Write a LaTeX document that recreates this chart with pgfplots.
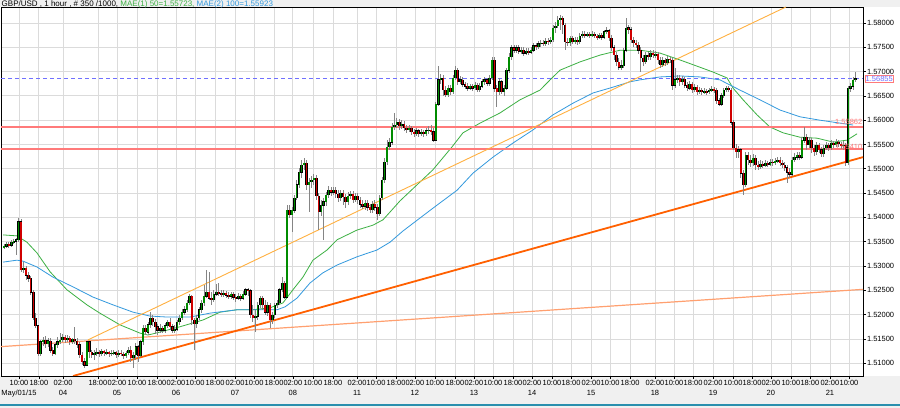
\documentclass[border=0pt]{standalone}
\usepackage{pgfplots}
\pgfplotsset{compat=1.18}
\usepackage{pgfplotstable}
\usepackage{fontspec}
\setmainfont{Liberation Sans}
\definecolor{bgc}{HTML}{F0F0F0}
\definecolor{tealc}{HTML}{2A8FAE}
\definecolor{upg}{HTML}{008C00}
\definecolor{dnr}{HTML}{D00000}
\definecolor{wick}{HTML}{858585}
\definecolor{maone}{HTML}{3CB043}
\definecolor{matwo}{HTML}{3399DD}
\definecolor{tlone}{HTML}{FFB040}
\definecolor{tltwo}{HTML}{FF6000}
\definecolor{tlthree}{HTML}{FFA070}
\definecolor{hred}{HTML}{FF7A7A}
\definecolor{cpb}{HTML}{7070FF}

\pgfplotstableread{
x o h l c
0 1.5339 1.5345 1.5335 1.5341
1 1.5341 1.5349 1.5337 1.5345
2 1.5345 1.5349 1.5337 1.5343
3 1.5343 1.5354 1.5339 1.5349
4 1.5349 1.5356 1.5345 1.5351
5 1.5351 1.5358 1.5323 1.5354
6 1.5354 1.5399 1.5349 1.5391
7 1.5391 1.5397 1.5288 1.5292
8 1.5292 1.5308 1.5286 1.5296
9 1.5296 1.5300 1.5271 1.5281
10 1.5281 1.5288 1.5267 1.5275
11 1.5275 1.5279 1.5240 1.5246
12 1.5246 1.5251 1.5189 1.5193
13 1.5193 1.5203 1.5172 1.5177
14 1.5177 1.5179 1.5115 1.5119
15 1.5119 1.5148 1.5115 1.5144
16 1.5144 1.5154 1.5136 1.5148
17 1.5148 1.5156 1.5132 1.5140
18 1.5140 1.5152 1.5134 1.5146
19 1.5146 1.5152 1.5121 1.5127
20 1.5127 1.5134 1.5115 1.5119
21 1.5119 1.5142 1.5117 1.5138
22 1.5138 1.5154 1.5132 1.5144
23 1.5144 1.5162 1.5140 1.5148
24 1.5148 1.5160 1.5144 1.5154
25 1.5154 1.5158 1.5142 1.5148
26 1.5148 1.5158 1.5144 1.5152
27 1.5152 1.5156 1.5138 1.5144
28 1.5144 1.5152 1.5140 1.5150
29 1.5150 1.5175 1.5140 1.5146
30 1.5146 1.5152 1.5132 1.5138
31 1.5138 1.5144 1.5111 1.5117
32 1.5117 1.5123 1.5096 1.5103
33 1.5103 1.5111 1.5090 1.5096
34 1.5096 1.5146 1.5094 1.5144
35 1.5144 1.5146 1.5111 1.5123
36 1.5123 1.5127 1.5111 1.5117
37 1.5117 1.5127 1.5107 1.5121
38 1.5121 1.5132 1.5115 1.5123
39 1.5123 1.5127 1.5113 1.5119
40 1.5119 1.5129 1.5115 1.5125
41 1.5125 1.5127 1.5115 1.5121
42 1.5121 1.5129 1.5117 1.5123
43 1.5123 1.5125 1.5113 1.5119
44 1.5119 1.5127 1.5115 1.5121
45 1.5121 1.5127 1.5117 1.5123
46 1.5123 1.5125 1.5111 1.5117
47 1.5117 1.5127 1.5113 1.5121
48 1.5121 1.5127 1.5115 1.5119
49 1.5119 1.5123 1.5109 1.5115
50 1.5115 1.5125 1.5111 1.5121
51 1.5121 1.5134 1.5117 1.5127
52 1.5127 1.5136 1.5103 1.5111
53 1.5111 1.5123 1.5090 1.5117
54 1.5117 1.5142 1.5107 1.5134
55 1.5134 1.5138 1.5103 1.5115
56 1.5115 1.5148 1.5113 1.5144
57 1.5144 1.5179 1.5138 1.5172
58 1.5172 1.5179 1.5158 1.5164
59 1.5164 1.5185 1.5158 1.5179
60 1.5179 1.5205 1.5172 1.5193
61 1.5193 1.5199 1.5177 1.5185
62 1.5185 1.5191 1.5160 1.5175
63 1.5175 1.5181 1.5158 1.5168
64 1.5168 1.5181 1.5162 1.5172
65 1.5172 1.5177 1.5162 1.5168
66 1.5168 1.5183 1.5162 1.5177
67 1.5177 1.5189 1.5172 1.5185
68 1.5185 1.5193 1.5168 1.5175
69 1.5175 1.5181 1.5162 1.5168
70 1.5168 1.5179 1.5162 1.5170
71 1.5170 1.5189 1.5166 1.5185
72 1.5185 1.5199 1.5179 1.5193
73 1.5193 1.5211 1.5189 1.5205
74 1.5205 1.5218 1.5199 1.5210
75 1.5210 1.5230 1.5205 1.5224
76 1.5224 1.5242 1.5220 1.5238
77 1.5238 1.5240 1.5179 1.5189
78 1.5189 1.5193 1.5127 1.5181
79 1.5181 1.5199 1.5172 1.5193
80 1.5193 1.5216 1.5189 1.5210
81 1.5210 1.5230 1.5203 1.5224
82 1.5224 1.5261 1.5218 1.5238
83 1.5238 1.5292 1.5234 1.5246
84 1.5246 1.5288 1.5230 1.5234
85 1.5234 1.5246 1.5220 1.5230
86 1.5230 1.5251 1.5226 1.5242
87 1.5242 1.5263 1.5238 1.5246
88 1.5246 1.5265 1.5238 1.5244
89 1.5244 1.5251 1.5236 1.5242
90 1.5242 1.5251 1.5236 1.5244
91 1.5244 1.5249 1.5234 1.5240
92 1.5240 1.5246 1.5232 1.5238
93 1.5238 1.5246 1.5232 1.5242
94 1.5242 1.5246 1.5230 1.5236
95 1.5236 1.5242 1.5226 1.5234
96 1.5234 1.5244 1.5230 1.5238
97 1.5238 1.5242 1.5228 1.5234
98 1.5234 1.5249 1.5230 1.5242
99 1.5242 1.5255 1.5238 1.5251
100 1.5251 1.5255 1.5238 1.5249
101 1.5249 1.5253 1.5193 1.5199
102 1.5199 1.5220 1.5185 1.5193
103 1.5193 1.5210 1.5164 1.5197
104 1.5197 1.5226 1.5189 1.5220
105 1.5220 1.5238 1.5214 1.5234
106 1.5234 1.5238 1.5210 1.5220
107 1.5220 1.5230 1.5199 1.5205
108 1.5205 1.5226 1.5197 1.5220
109 1.5220 1.5224 1.5172 1.5189
110 1.5189 1.5205 1.5181 1.5199
111 1.5199 1.5224 1.5193 1.5220
112 1.5220 1.5230 1.5214 1.5224
113 1.5224 1.5255 1.5220 1.5251
114 1.5251 1.5277 1.5246 1.5265
115 1.5265 1.5269 1.5232 1.5236
116 1.5236 1.5425 1.5234 1.5415
117 1.5415 1.5425 1.5399 1.5405
118 1.5405 1.5421 1.5370 1.5415
119 1.5415 1.5446 1.5409 1.5440
120 1.5440 1.5477 1.5436 1.5467
121 1.5467 1.5502 1.5461 1.5493
122 1.5493 1.5518 1.5481 1.5508
123 1.5508 1.5522 1.5498 1.5512
124 1.5512 1.5518 1.5456 1.5467
125 1.5467 1.5481 1.5411 1.5473
126 1.5473 1.5485 1.5461 1.5477
127 1.5477 1.5489 1.5467 1.5481
128 1.5481 1.5487 1.5436 1.5444
129 1.5444 1.5450 1.5374 1.5411
130 1.5411 1.5436 1.5403 1.5425
131 1.5425 1.5440 1.5354 1.5432
132 1.5432 1.5452 1.5423 1.5446
133 1.5446 1.5465 1.5440 1.5456
134 1.5456 1.5463 1.5444 1.5452
135 1.5452 1.5463 1.5446 1.5456
136 1.5456 1.5463 1.5440 1.5448
137 1.5448 1.5456 1.5432 1.5440
138 1.5440 1.5456 1.5434 1.5450
139 1.5450 1.5456 1.5425 1.5442
140 1.5442 1.5448 1.5419 1.5432
141 1.5432 1.5452 1.5425 1.5444
142 1.5444 1.5454 1.5438 1.5448
143 1.5448 1.5454 1.5429 1.5436
144 1.5436 1.5450 1.5432 1.5444
145 1.5444 1.5450 1.5427 1.5436
146 1.5436 1.5442 1.5419 1.5427
147 1.5427 1.5436 1.5417 1.5423
148 1.5423 1.5436 1.5415 1.5429
149 1.5429 1.5436 1.5413 1.5421
150 1.5421 1.5427 1.5409 1.5415
151 1.5415 1.5434 1.5409 1.5427
152 1.5427 1.5436 1.5413 1.5421
153 1.5421 1.5427 1.5395 1.5407
154 1.5407 1.5446 1.5403 1.5440
155 1.5440 1.5483 1.5436 1.5477
156 1.5477 1.5522 1.5471 1.5514
157 1.5514 1.5559 1.5508 1.5545
158 1.5545 1.5563 1.5539 1.5555
159 1.5555 1.5594 1.5549 1.5586
160 1.5586 1.5615 1.5580 1.5590
161 1.5590 1.5605 1.5584 1.5596
162 1.5596 1.5602 1.5580 1.5588
163 1.5588 1.5600 1.5582 1.5592
164 1.5592 1.5598 1.5578 1.5584
165 1.5584 1.5590 1.5574 1.5580
166 1.5580 1.5590 1.5576 1.5584
167 1.5584 1.5588 1.5570 1.5576
168 1.5576 1.5582 1.5565 1.5572
169 1.5572 1.5584 1.5567 1.5578
170 1.5578 1.5582 1.5565 1.5572
171 1.5572 1.5582 1.5567 1.5576
172 1.5576 1.5580 1.5565 1.5572
173 1.5572 1.5584 1.5567 1.5578
174 1.5578 1.5588 1.5572 1.5580
175 1.5580 1.5590 1.5570 1.5576
176 1.5576 1.5584 1.5555 1.5559
177 1.5559 1.5637 1.5557 1.5633
178 1.5633 1.5712 1.5629 1.5683
179 1.5683 1.5695 1.5674 1.5687
180 1.5687 1.5693 1.5650 1.5662
181 1.5662 1.5670 1.5648 1.5652
182 1.5652 1.5672 1.5648 1.5666
183 1.5666 1.5672 1.5652 1.5658
184 1.5658 1.5693 1.5654 1.5687
185 1.5687 1.5712 1.5683 1.5703
186 1.5703 1.5707 1.5672 1.5679
187 1.5679 1.5691 1.5674 1.5683
188 1.5683 1.5689 1.5668 1.5674
189 1.5674 1.5679 1.5664 1.5670
190 1.5670 1.5676 1.5660 1.5666
191 1.5666 1.5674 1.5662 1.5670
192 1.5670 1.5674 1.5660 1.5666
193 1.5666 1.5679 1.5662 1.5672
194 1.5672 1.5676 1.5658 1.5662
195 1.5662 1.5676 1.5658 1.5670
196 1.5670 1.5685 1.5666 1.5679
197 1.5679 1.5689 1.5672 1.5683
198 1.5683 1.5687 1.5670 1.5676
199 1.5676 1.5693 1.5670 1.5687
200 1.5687 1.5730 1.5683 1.5724
201 1.5724 1.5730 1.5658 1.5666
202 1.5666 1.5672 1.5627 1.5658
203 1.5658 1.5687 1.5652 1.5679
204 1.5679 1.5683 1.5654 1.5658
205 1.5658 1.5672 1.5650 1.5666
206 1.5666 1.5707 1.5662 1.5703
207 1.5703 1.5738 1.5697 1.5730
208 1.5730 1.5755 1.5724 1.5749
209 1.5749 1.5755 1.5738 1.5744
210 1.5744 1.5755 1.5738 1.5749
211 1.5749 1.5755 1.5736 1.5742
212 1.5742 1.5751 1.5736 1.5744
213 1.5744 1.5751 1.5732 1.5738
214 1.5738 1.5749 1.5734 1.5742
215 1.5742 1.5749 1.5734 1.5740
216 1.5740 1.5751 1.5736 1.5744
217 1.5744 1.5759 1.5740 1.5753
218 1.5753 1.5759 1.5744 1.5751
219 1.5751 1.5763 1.5747 1.5757
220 1.5757 1.5765 1.5751 1.5759
221 1.5759 1.5765 1.5753 1.5757
222 1.5757 1.5769 1.5753 1.5763
223 1.5763 1.5769 1.5755 1.5761
224 1.5761 1.5771 1.5757 1.5765
225 1.5765 1.5796 1.5761 1.5790
226 1.5790 1.5802 1.5779 1.5794
227 1.5794 1.5814 1.5790 1.5806
228 1.5806 1.5816 1.5786 1.5810
229 1.5810 1.5814 1.5777 1.5796
230 1.5796 1.5800 1.5744 1.5761
231 1.5761 1.5769 1.5753 1.5759
232 1.5759 1.5773 1.5753 1.5769
233 1.5769 1.5773 1.5757 1.5761
234 1.5761 1.5771 1.5757 1.5765
235 1.5765 1.5771 1.5755 1.5761
236 1.5761 1.5779 1.5757 1.5773
237 1.5773 1.5784 1.5769 1.5777
238 1.5777 1.5784 1.5769 1.5775
239 1.5775 1.5782 1.5771 1.5777
240 1.5777 1.5782 1.5769 1.5775
241 1.5775 1.5784 1.5771 1.5777
242 1.5777 1.5782 1.5769 1.5773
243 1.5773 1.5777 1.5765 1.5771
244 1.5771 1.5779 1.5767 1.5775
245 1.5775 1.5779 1.5765 1.5771
246 1.5771 1.5786 1.5767 1.5782
247 1.5782 1.5792 1.5777 1.5784
248 1.5784 1.5788 1.5763 1.5769
249 1.5769 1.5775 1.5742 1.5749
250 1.5749 1.5755 1.5724 1.5734
251 1.5734 1.5740 1.5712 1.5720
252 1.5720 1.5728 1.5703 1.5709
253 1.5709 1.5724 1.5703 1.5712
254 1.5712 1.5749 1.5707 1.5744
255 1.5744 1.5810 1.5740 1.5790
256 1.5790 1.5796 1.5777 1.5786
257 1.5786 1.5792 1.5759 1.5765
258 1.5765 1.5771 1.5751 1.5759
259 1.5759 1.5765 1.5749 1.5755
260 1.5755 1.5761 1.5736 1.5744
261 1.5744 1.5751 1.5699 1.5728
262 1.5728 1.5734 1.5712 1.5720
263 1.5720 1.5740 1.5716 1.5734
264 1.5734 1.5740 1.5724 1.5730
265 1.5730 1.5744 1.5724 1.5738
266 1.5738 1.5744 1.5728 1.5734
267 1.5734 1.5742 1.5728 1.5736
268 1.5736 1.5740 1.5716 1.5724
269 1.5724 1.5730 1.5707 1.5714
270 1.5714 1.5730 1.5709 1.5724
271 1.5724 1.5728 1.5712 1.5718
272 1.5718 1.5732 1.5714 1.5726
273 1.5726 1.5730 1.5718 1.5724
274 1.5724 1.5728 1.5662 1.5672
275 1.5672 1.5707 1.5666 1.5683
276 1.5683 1.5693 1.5676 1.5687
277 1.5687 1.5693 1.5670 1.5679
278 1.5679 1.5691 1.5672 1.5685
279 1.5685 1.5689 1.5666 1.5672
280 1.5672 1.5679 1.5660 1.5666
281 1.5666 1.5681 1.5662 1.5674
282 1.5674 1.5679 1.5656 1.5662
283 1.5662 1.5674 1.5658 1.5668
284 1.5668 1.5672 1.5652 1.5658
285 1.5658 1.5668 1.5654 1.5662
286 1.5662 1.5666 1.5652 1.5658
287 1.5658 1.5666 1.5654 1.5660
288 1.5660 1.5664 1.5652 1.5658
289 1.5658 1.5666 1.5654 1.5662
290 1.5662 1.5670 1.5658 1.5664
291 1.5664 1.5668 1.5656 1.5662
292 1.5662 1.5666 1.5633 1.5640
293 1.5640 1.5646 1.5629 1.5633
294 1.5633 1.5656 1.5629 1.5650
295 1.5650 1.5666 1.5646 1.5662
296 1.5662 1.5670 1.5658 1.5666
297 1.5666 1.5670 1.5658 1.5662
298 1.5662 1.5666 1.5590 1.5596
299 1.5596 1.5600 1.5539 1.5543
300 1.5543 1.5551 1.5522 1.5535
301 1.5535 1.5547 1.5522 1.5539
302 1.5539 1.5543 1.5481 1.5491
303 1.5491 1.5498 1.5446 1.5467
304 1.5467 1.5535 1.5463 1.5528
305 1.5528 1.5535 1.5508 1.5518
306 1.5518 1.5528 1.5504 1.5512
307 1.5512 1.5531 1.5506 1.5522
308 1.5522 1.5528 1.5498 1.5508
309 1.5508 1.5516 1.5498 1.5504
310 1.5504 1.5518 1.5500 1.5510
311 1.5510 1.5516 1.5502 1.5506
312 1.5506 1.5518 1.5504 1.5512
313 1.5512 1.5516 1.5504 1.5508
314 1.5508 1.5520 1.5506 1.5514
315 1.5514 1.5520 1.5506 1.5512
316 1.5512 1.5522 1.5508 1.5516
317 1.5516 1.5524 1.5512 1.5518
318 1.5518 1.5524 1.5506 1.5512
319 1.5512 1.5518 1.5502 1.5508
320 1.5508 1.5514 1.5495 1.5502
321 1.5502 1.5508 1.5471 1.5493
322 1.5493 1.5502 1.5481 1.5489
323 1.5489 1.5524 1.5485 1.5518
324 1.5518 1.5533 1.5514 1.5524
325 1.5524 1.5535 1.5518 1.5528
326 1.5528 1.5535 1.5518 1.5524
327 1.5524 1.5565 1.5520 1.5559
328 1.5559 1.5586 1.5553 1.5565
329 1.5565 1.5572 1.5539 1.5549
330 1.5549 1.5565 1.5543 1.5559
331 1.5559 1.5563 1.5533 1.5543
332 1.5543 1.5549 1.5526 1.5535
333 1.5535 1.5555 1.5528 1.5549
334 1.5549 1.5553 1.5533 1.5539
335 1.5539 1.5545 1.5524 1.5531
336 1.5531 1.5549 1.5524 1.5543
337 1.5543 1.5555 1.5539 1.5549
338 1.5549 1.5553 1.5537 1.5543
339 1.5543 1.5559 1.5539 1.5553
340 1.5553 1.5557 1.5543 1.5549
341 1.5549 1.5561 1.5545 1.5555
342 1.5555 1.5559 1.5545 1.5551
343 1.5551 1.5555 1.5541 1.5547
344 1.5547 1.5557 1.5539 1.5549
345 1.5549 1.5553 1.5506 1.5512
346 1.5512 1.5670 1.5508 1.5666
347 1.5666 1.5676 1.5658 1.5670
348 1.5670 1.5689 1.5662 1.5683
349 1.5683 1.5699 1.5679 1.56855
}\candles

\begin{document}
\begin{tikzpicture}[font=\fontsize{7.5bp}{10bp}\selectfont]
\useasboundingbox (-1bp,-32bp) rectangle (899bp,376bp);
\fill[white] (-1bp,-32bp) rectangle (899bp,376bp);
\fill[bgc] (-1bp,369bp) rectangle (899bp,376bp);
\fill[bgc] (-1bp,-32bp) rectangle (899bp,0bp);
\fill[tealc] (-1bp,-30bp) rectangle (899bp,-28bp);
\begin{axis}[
  at={(0,0)}, anchor=south west,
  scale only axis, width=862bp, height=369bp,
  xmin=-1.23, xmax=352.05, ymin=1.50737, ymax=1.58329,
  clip mode=individual,
  axis background/.style={fill=white},
  axis line style={black, line width=0.8bp},
  grid=major, major grid style={draw=black!14, line width=0.8bp},
  tick align=outside, major tick length=3bp,
  tick style={black, line width=0.6bp},
  xtick pos=bottom, ytick pos=right, yticklabel pos=right,
  scaled y ticks=false,
  /pgf/number format/assume math mode=true,
  ytick={1.51,1.515,1.52,1.525,1.53,1.535,1.54,1.545,1.55,1.555,1.56,1.565,1.57,1.575,1.58},
  yticklabel style={/pgf/number format/.cd, fixed, fixed zerofill, precision=5, /tikz/.cd, anchor=west, inner sep=0.8bp, font=\fontsize{7.5bp}{9bp}\selectfont},
  xtick={6.15,14.3,24.2,38.5,46.3,54.5,62.7,70.5,78.3,86.5,94.7,102.5,110.7,118.4,126.6,134.8,144.7,152.5,160.7,168.4,176.6,184.8,192.6,200.4,208.6,216.4,224.6,232.4,240.6,248.4,256.6,266.8,274.6,282.4,290.6,298.8,306.6,314.3,322.5,330.3,338.5,346.3},
  xticklabels={{10:00\\May/01/15},18:00,{02:00\\04},18:00,{02:00\\05},10:00,18:00,{02:00\\06},10:00,18:00,{02:00\\07},10:00,18:00,{02:00\\08},10:00,18:00,{02:00\\11},10:00,18:00,{02:00\\12},10:00,18:00,{02:00\\13},10:00,18:00,{02:00\\14},10:00,18:00,{02:00\\15},10:00,18:00,{02:00\\18},10:00,18:00,{02:00\\19},10:00,18:00,{02:00\\20},10:00,18:00,{02:00\\21},10:00},
  xticklabel style={align=center, anchor=north, inner sep=1bp, font=\fontsize{7.5bp}{10bp}\selectfont},
]
% moving averages
\addplot[maone, line width=0.8bp] coordinates {
(-0.4,1.5364) (5.3,1.5362) (9.4,1.5349) (13.5,1.5327) (18.9,1.5288) (25.8,1.5251) (34.0,1.5220) (39.3,1.5203) (47.5,1.5179) (55.7,1.5162) (59.0,1.5158) (63.9,1.5164) (72.1,1.5175) (81.6,1.5189) (88.5,1.5205) (95.5,1.5210) (102.0,1.5210) (109.0,1.5214) (114.3,1.5224) (118.4,1.5251) (122.5,1.5277) (126.6,1.5312) (132.4,1.5333) (136.5,1.5354) (144.7,1.5374) (151.2,1.5384) (155.3,1.5395) (158.2,1.5411) (162.3,1.5434) (175.8,1.5498) (183.6,1.5545) (188.1,1.5574) (195.1,1.5594) (203.3,1.5615) (211.5,1.5642) (219.7,1.5662) (223.8,1.5683) (227.9,1.5703) (236.1,1.5720) (244.3,1.5734) (252.5,1.5744) (260.7,1.5744) (268.9,1.5738) (277.0,1.5724) (285.2,1.5709) (290.6,1.5699) (296.3,1.5687) (298.8,1.5666) (302.9,1.5642) (308.6,1.5611) (313.9,1.5586) (319.3,1.5574) (326.2,1.5565) (333.2,1.5563) (339.8,1.5555) (345.5,1.5559) (349.6,1.5572)};
\addplot[matwo, line width=0.8bp] coordinates {
(-0.4,1.5308) (5.3,1.5312) (7.8,1.5310) (13.5,1.5298) (20.1,1.5277) (28.3,1.5257) (36.5,1.5236) (44.7,1.5220) (52.9,1.5205) (59.8,1.5197) (66.8,1.5195) (76.2,1.5195) (84.4,1.5203) (95.5,1.5210) (103.7,1.5210) (111.9,1.5210) (115.2,1.5216) (120.1,1.5234) (125.4,1.5265) (130.7,1.5286) (136.5,1.5302) (144.7,1.5319) (152.9,1.5333) (158.2,1.5349) (163.5,1.5372) (175.8,1.5419) (185.7,1.5456) (192.2,1.5491) (200.4,1.5524) (208.6,1.5553) (216.8,1.5580) (225.0,1.5611) (233.2,1.5635) (241.4,1.5656) (249.6,1.5668) (256.6,1.5679) (260.7,1.5683) (268.9,1.5689) (277.0,1.5691) (285.2,1.5689) (293.4,1.5683) (301.6,1.5662) (309.8,1.5642) (318.0,1.5621) (326.2,1.5607) (334.4,1.5600) (342.6,1.5594) (348.0,1.5590)};
% horizontal levels
\addplot[hred, line width=1.4bp] coordinates {(-1.23,1.55862) (352.05,1.55862)};
\addplot[hred, line width=1.4bp] coordinates {(-1.23,1.55410) (352.05,1.55410)};
\addplot[cpb, line width=1.2bp, dash pattern=on 4bp off 3bp] coordinates {(-1.23,1.56855) (352.05,1.56855)};
% trend lines
\addplot[tlthree, line width=1.2bp] coordinates {(-1.6,1.5134) (352.05,1.5252)};
\addplot[tlone, line width=0.9bp] coordinates {(34.4,1.5148) (320.5,1.5833)};
\addplot[tltwo, line width=1.8bp] coordinates {(28.3,1.50737) (352.05,1.5524)};
% candles: wicks
\addplot[draw=none, mark=none, forget plot,
  error bars/.cd, y dir=both, y explicit, error mark=none,
  error bar style={draw=wick, line width=0.8bp, solid}]
  table[x=x, y expr={(\thisrow{h}+\thisrow{l})/2}, y error expr={(\thisrow{h}-\thisrow{l})/2}] {\candles};
% up bodies
\addplot[draw=none, mark=none, forget plot,
  restrict expr to domain={\thisrow{c}-\thisrow{o}}{0:1},
  error bars/.cd, y dir=both, y explicit, error mark=none,
  error bar style={draw=black, line width=2.5bp, solid}]
  table[x=x, y expr={(\thisrow{o}+\thisrow{c})/2}, y error expr={max(abs(\thisrow{c}-\thisrow{o})/2+0.00008,0.0001)}] {\candles};
\addplot[draw=none, mark=none, forget plot,
  restrict expr to domain={\thisrow{c}-\thisrow{o}}{0:1},
  error bars/.cd, y dir=both, y explicit, error mark=none,
  error bar style={draw=upg, line width=1.3bp, solid}]
  table[x=x, y expr={(\thisrow{o}+\thisrow{c})/2}, y error expr={max(abs(\thisrow{c}-\thisrow{o})/2-0.00002,0.00001)}] {\candles};
% down bodies
\addplot[draw=none, mark=none, forget plot,
  restrict expr to domain={\thisrow{o}-\thisrow{c}}{0.000001:1},
  error bars/.cd, y dir=both, y explicit, error mark=none,
  error bar style={draw=black, line width=2.5bp, solid}]
  table[x=x, y expr={(\thisrow{o}+\thisrow{c})/2}, y error expr={max(abs(\thisrow{c}-\thisrow{o})/2+0.00008,0.0001)}] {\candles};
\addplot[draw=none, mark=none, forget plot,
  restrict expr to domain={\thisrow{o}-\thisrow{c}}{0.000001:1},
  error bars/.cd, y dir=both, y explicit, error mark=none,
  error bar style={draw=dnr, line width=1.3bp, solid}]
  table[x=x, y expr={(\thisrow{o}+\thisrow{c})/2}, y error expr={max(abs(\thisrow{c}-\thisrow{o})/2-0.00002,0.00001)}] {\candles};
% level labels
\node[anchor=east, text=hred, inner sep=0.5bp, font=\fontsize{7.5bp}{9bp}\selectfont] at (axis cs:352.05,1.55862) [yshift=4.5bp] {1.55862};
\node[anchor=east, text=hred, inner sep=0.5bp, font=\fontsize{7.5bp}{9bp}\selectfont] at (axis cs:352.05,1.55410) [yshift=2bp] {1.55410};
\node[anchor=west, draw=hred, fill=white, text=cpb, inner sep=0.8bp, line width=0.8bp, font=\fontsize{7.5bp}{9bp}\selectfont] at (axis cs:352.05,1.56855) [xshift=1.5bp] {1.56855};
\end{axis}
\node[anchor=base west, inner sep=0pt, font=\fontsize{8bp}{9bp}\selectfont] at (0.5bp,369.8bp)
  {GBP/USD , 1 hour , \# 350 /1000, \textcolor{maone}{MAE(1) 50=1.55723,} \textcolor{matwo}{MAE(2) 100=1.55923}};
\end{tikzpicture}
\end{document}
